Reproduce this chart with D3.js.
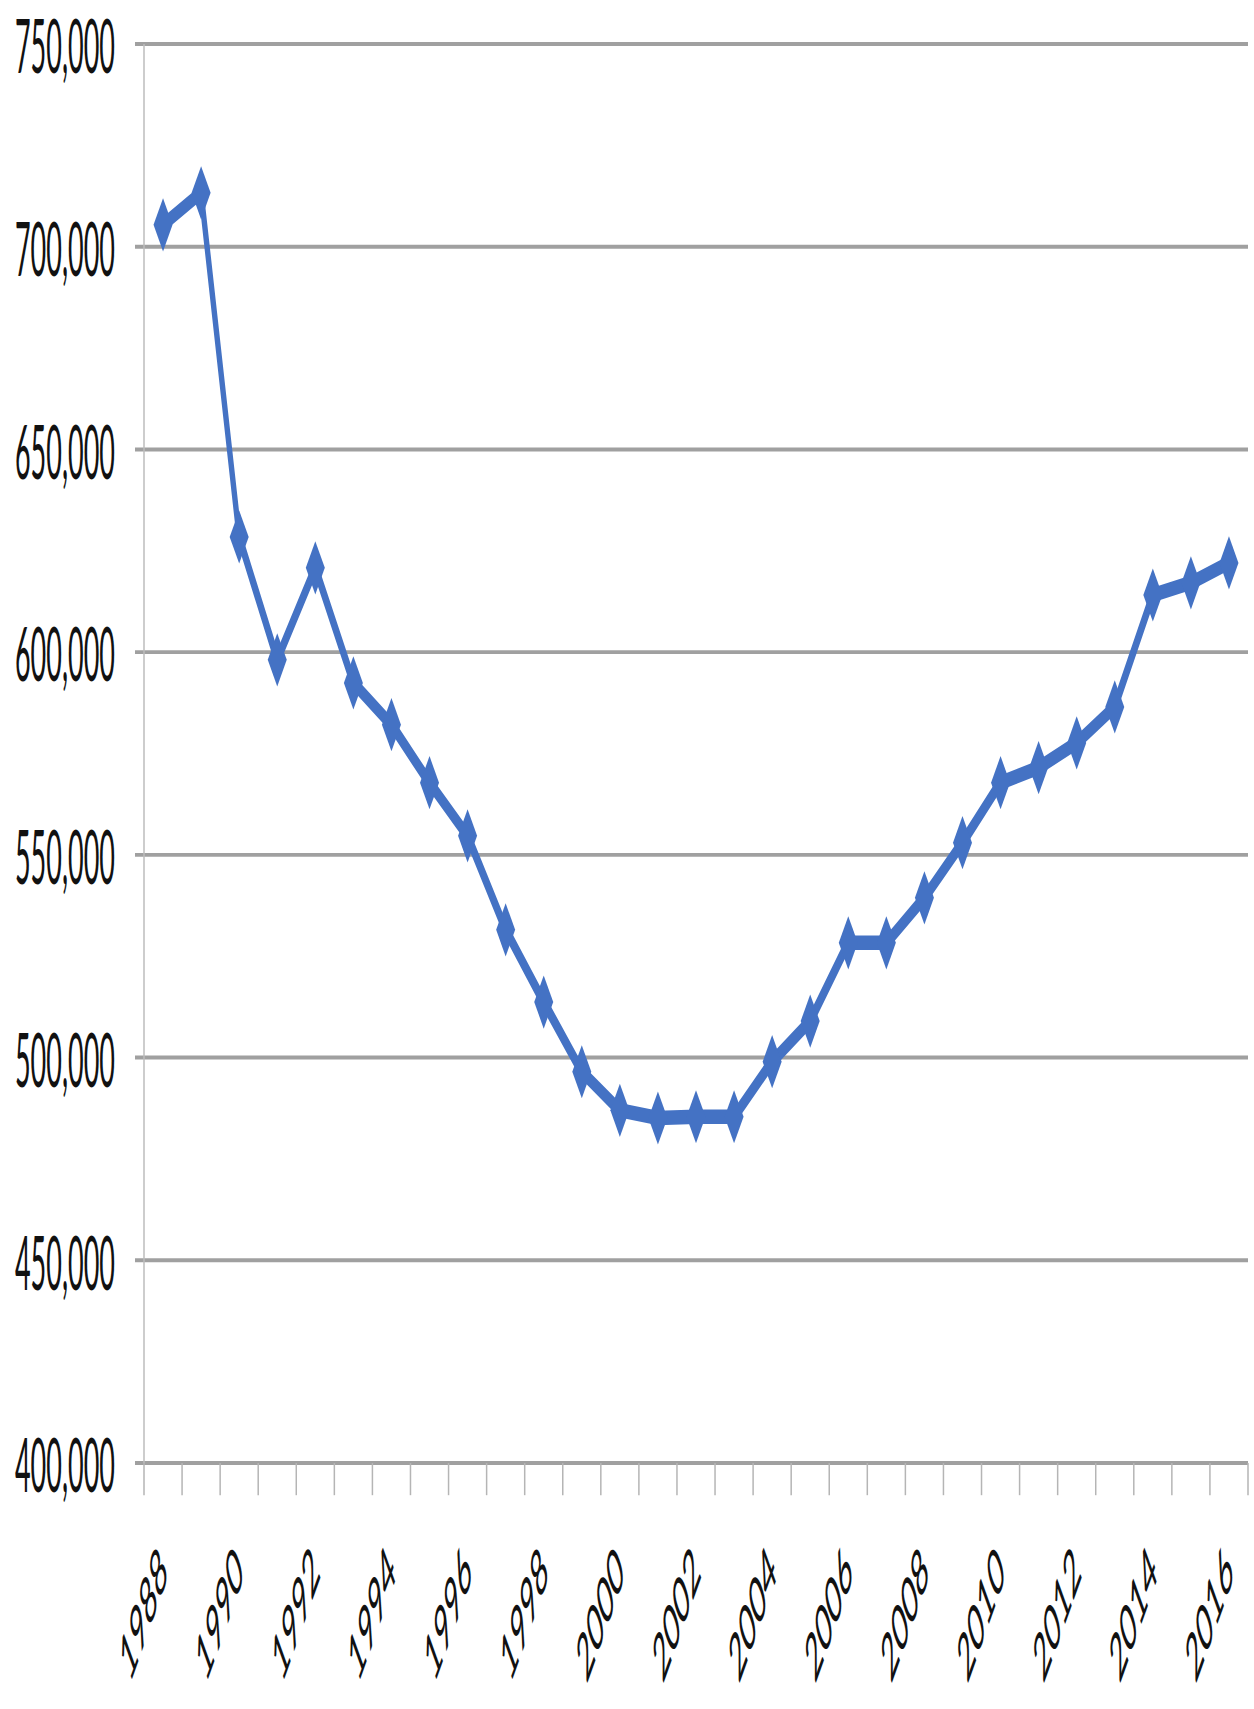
<!DOCTYPE html>
<html>
<head>
<meta charset="utf-8">
<script src="https://cdn.jsdelivr.net/npm/d3@7"></script>
<style>
  html, body { margin: 0; padding: 0; background: #ffffff; }
  svg { display: block; }
</style>
</head>
<body>
<svg id="chart" width="1254" height="1709"></svg>
<script>
// Yearly series
const years = [1988, 1989, 1990, 1991, 1992, 1993, 1994, 1995, 1996, 1997,
               1998, 1999, 2000, 2001, 2002, 2003, 2004, 2005, 2006, 2007,
               2008, 2009, 2010, 2011, 2012, 2013, 2014, 2015, 2016];
const values = [705400, 713300, 628400, 598100, 620800, 592400, 582100, 567800, 554700, 531500,
                513700, 496500, 487000, 485100, 485400, 485400, 499000, 509000, 528300, 528300,
                539400, 553000, 567800, 571500, 577600, 586500, 614100, 617100, 622000];
const yTicks = [400000, 450000, 500000, 550000, 600000, 650000, 700000, 750000];
const xLabelYears = [1988, 1990, 1992, 1994, 1996, 1998, 2000, 2002, 2004, 2006, 2008, 2010, 2012, 2014, 2016];

// The whole drawing is laid out in a flat frame and stretched vertically.
const SY = 2.8;
const left = 144, right = 1248;
const plotTop = 44 / SY, plotBottom = 1463 / SY;
const blue = "#4472C4";
const font = "Lato, 'Liberation Sans', sans-serif";

const svg = d3.select("#chart");
const g = svg.append("g").attr("transform", `scale(1,${SY})`);

const x = d3.scaleBand().domain(years).range([left, right]).padding(0);
const y = d3.scaleLinear().domain([400000, 750000]).range([plotBottom, plotTop]);
const cx = d => x(d) + x.bandwidth() / 2;

// Horizontal gridlines (with a short stub left of the axis)
g.append("g").selectAll("line").data(yTicks).join("line")
  .attr("x1", left - 9).attr("x2", right)
  .attr("y1", d => y(d)).attr("y2", d => y(d))
  .attr("stroke", "#a0a0a0").attr("stroke-width", 1.4);

// Vertical value axis line
g.append("line")
  .attr("x1", left).attr("x2", left)
  .attr("y1", y(750000)).attr("y2", y(400000))
  .attr("stroke", "#bdbdbd").attr("stroke-width", 1.5);

// Category tick marks at band edges
const edges = years.map(d => x(d)).concat([right]);
g.append("g").selectAll("line").data(edges).join("line")
  .attr("x1", d => d).attr("x2", d => d)
  .attr("y1", plotBottom).attr("y2", plotBottom + 11.5)
  .attr("stroke", "#b5b5b5").attr("stroke-width", 1.5);

// Value labels
const fmt = d3.format(",");
g.append("g").selectAll("text").data(yTicks).join("text")
  .attr("x", 115).attr("y", d => y(d))
  .attr("text-anchor", "end").attr("dominant-baseline", "central")
  .attr("font-family", font).attr("font-size", 27)
  .attr("fill", "#111")
  .text(d => fmt(d));

// Year labels, rotated
g.append("g").selectAll("text").data(xLabelYears).join("text")
  .attr("transform", d => `translate(${cx(d) + 6},${plotBottom + 40})rotate(-45)`)
  .attr("text-anchor", "end")
  .attr("font-family", font).attr("font-size", 24)
  .attr("fill", "#111")
  .text(d => d);

// Series line
const pts = years.map((yr, i) => ({ yr, v: values[i] }));
const line = d3.line().x(d => cx(d.yr)).y(d => y(d.v));
g.append("path").datum(pts)
  .attr("d", line)
  .attr("fill", "none").attr("stroke", blue)
  .attr("stroke-width", 5.2).attr("stroke-linejoin", "round");

// Diamond markers
const mw = 9.5, mh = 9.5;
g.append("g").selectAll("path").data(pts).join("path")
  .attr("transform", d => `translate(${cx(d.yr)},${y(d.v)})`)
  .attr("d", `M0,${-mh}L${mw},0L0,${mh}L${-mw},0Z`)
  .attr("fill", blue);
</script>
</body>
</html>
